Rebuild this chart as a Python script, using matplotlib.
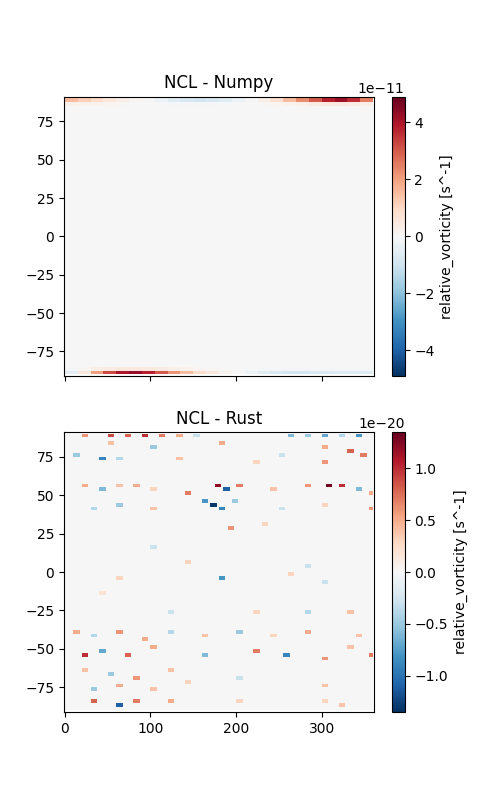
import numpy as np
import matplotlib
matplotlib.use("Agg")
import matplotlib.pyplot as plt

lon_edges = np.arange(0, 362.5, 2.5)
lat_edges = np.arange(-90, 92.5, 2.5)
nlon, nlat = len(lon_edges) - 1, len(lat_edges) - 1

# Top panel: polar rows (values x1e-11 at 15-degree blocks)
north_row = [1.5, 1.2, 0.9, 0.6, 0.3, 0.1, 0.0, -0.3, -0.6, -0.8, -0.9, -0.8,
             -0.6, -0.3, 0.0, 0.3, 0.8, 1.5, 2.3, 3.0, 3.8, 4.2, 3.6, 2.5]
north_row2 = [0.3, 0.2, 0.2, 0.1, 0.05, 0.0, 0.0, -0.05, -0.1, -0.1, -0.1, -0.1,
              -0.05, 0.0, 0.0, 0.05, 0.1, 0.2, 0.3, 0.4, 0.5, 0.5, 0.4, 0.3]
south_row = [-0.5, 0.5, 2.0, 3.2, 4.0, 4.3, 3.8, 3.0, 2.2, 1.5, 0.9, 0.5,
             0.2, 0.0, -0.3, -0.6, -0.8, -0.9, -0.9, -0.8, -0.7, -0.6, -0.6, -0.6]
south_row2 = [-0.1, 0.1, 0.3, 0.4, 0.5, 0.5, 0.5, 0.4, 0.3, 0.2, 0.1, 0.05,
              0.0, 0.0, -0.05, -0.1, -0.1, -0.1, -0.1, -0.1, -0.1, -0.1, -0.1, -0.1]

# Bottom panel: speckle cells (lon, lat, value x1e-20)
rust_cells = [
    (20, 87.5, 0.6), (50, 87.5, 0.9), (70, 87.5, 0.8), (90, 87.5, 1.0), (110, 87.5, 0.7),
    (130, 87.5, 0.5), (150, 87.5, -0.3), (260, 87.5, -0.6), (280, 87.5, -0.5), (300, 87.5, -0.7),
    (320, 87.5, -0.4), (340, 87.5, -0.8), (50, 82.5, 0.4), (100, 80, -0.5), (180, 82.5, 0.5),
    (300, 80, 0.5), (330, 77.5, 0.8), (345, 75, 0.7), (40, 72.5, -0.9), (60, 72.5, -0.4),
    (130, 72.5, 0.4), (220, 70, 0.3), (300, 70, 0.6), (10, 75, -0.5), (250, 75, -0.3),
    (20, 55, 0.5), (40, 52.5, -0.6), (60, 55, 0.4), (80, 55, 0.5), (100, 52.5, 0.3),
    (175, 55, 1.2), (185, 52.5, -1.1), (200, 55, 0.7), (240, 52.5, 0.4), (280, 55, 0.6),
    (305, 55, 1.3), (320, 55, 1.0), (340, 52.5, -0.6), (355, 50, 0.5), (140, 50, 0.7),
    (160, 45, -0.8), (170, 42.5, -1.3), (180, 40, -0.9), (195, 45, -0.5), (30, 40, -0.4),
    (60, 42.5, -0.5), (100, 40, 0.4), (250, 40, -0.3), (300, 42.5, 0.3), (355, 40, 0.6),
    (190, 27.5, 0.6), (230, 30, 0.3), (100, 15, -0.3), (140, 5, 0.3), (280, 2.5, -0.3),
    (60, -5, 0.3), (180, -5, -0.8), (260, -2.5, 0.3), (300, -7.5, -0.3), (40, -15, 0.2),
    (120, -27.5, -0.3), (220, -27.5, 0.3), (280, -27.5, -0.4), (330, -27.5, 0.4),
    (10, -40, 0.5), (30, -42.5, -0.4), (60, -40, 0.6), (90, -45, 0.5), (120, -40, -0.4),
    (160, -42.5, 0.4), (200, -40, -0.5), (240, -42.5, 0.3), (280, -40, 0.5), (340, -42.5, 0.4),
    (20, -55, 1.0), (40, -52.5, -0.7), (70, -55, 0.8), (100, -50, 0.5), (160, -55, -0.6),
    (220, -52.5, 0.7), (255, -55, -0.9), (300, -57.5, 0.6), (330, -50, 0.4), (355, -55, 0.7),
    (20, -65, 0.4), (50, -67.5, -0.5), (80, -70, 0.6), (120, -65, 0.4), (200, -70, -0.3),
    (30, -77.5, -0.5), (60, -75, 0.5), (100, -77.5, 0.4), (140, -72.5, 0.3), (300, -75, 0.4),
    (30, -85, 0.8), (60, -87.5, -1.1), (80, -85, 0.7), (120, -85, 0.5), (200, -85, 0.3),
    (300, -85, 0.3), (320, -87.5, 0.4),
]

top = np.zeros((nlat, nlon))
top[-1] = np.repeat(north_row, 6)
top[-2] = np.repeat(north_row2, 6)
top[0] = np.repeat(south_row, 6)
top[1] = np.repeat(south_row2, 6)
top = top * 1e-11

bot = np.zeros((nlat, nlon))
for lo, la, v in rust_cells:
    i = min(int((la + 90) // 2.5), nlat - 1)
    j = min(int(lo // 2.5), nlon - 1)
    bot[i, j:j + 3] = v
bot = bot * 1e-20

fig = plt.figure(figsize=(5, 8), dpi=100)
ax1 = fig.add_axes([0.128, 0.53, 0.62, 0.349])
cax1 = fig.add_axes([0.784, 0.53, 0.025, 0.349])
ax2 = fig.add_axes([0.128, 0.11, 0.62, 0.35])
cax2 = fig.add_axes([0.784, 0.11, 0.025, 0.35])

m1 = ax1.pcolormesh(lon_edges, lat_edges, top, cmap="RdBu_r", vmin=-4.9e-11, vmax=4.9e-11)
ax1.set_title("NCL - Numpy")
ax1.set_xticklabels([])
cb1 = fig.colorbar(m1, cax=cax1)
cb1.set_label("relative_vorticity [s^-1]")

m2 = ax2.pcolormesh(lon_edges, lat_edges, bot, cmap="RdBu_r", vmin=-1.35e-20, vmax=1.35e-20)
ax2.set_title("NCL - Rust")
cb2 = fig.colorbar(m2, cax=cax2)
cb2.set_label("relative_vorticity [s^-1]")

for ax in (ax1, ax2):
    ax.set_xlim(-1, 361)
    ax.set_ylim(-91, 91)
    ax.set_xticks([0, 100, 200, 300])
    ax.set_yticks([-75, -50, -25, 0, 25, 50, 75])

fig.savefig("out.png", dpi=100)
